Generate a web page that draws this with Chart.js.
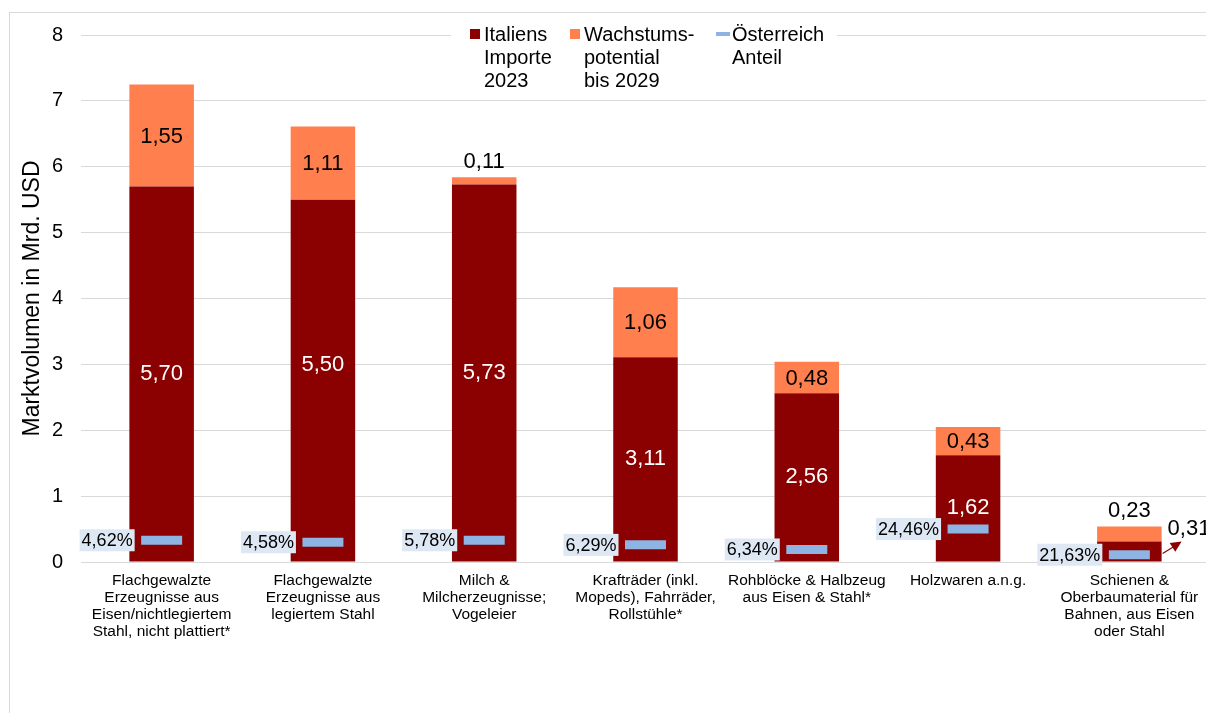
<!DOCTYPE html>
<html lang="de">
<head>
    <meta charset="UTF-8">
    <title>Marktvolumen Italien</title>
    <script src="https://cdn.jsdelivr.net/npm/chart.js"></script>
    <style>
        html, body {
            margin: 0;
            padding: 0;
            overflow: hidden;
            background: #fff;
        }
        #frame {
            position: absolute;
            left: 9px;
            top: 12px;
            width: 1400px;
            height: 900px;
            border: 1px solid #D9D9D9;
        }
        #marketChart {
            position: absolute;
            left: 0;
            top: 0;
        }
    </style>
</head>
<body>
    <div id="frame"></div>
    <canvas id="marketChart" width="1220" height="713"></canvas>
    <script>
        const categories = [
            ['Flachgewalzte', 'Erzeugnisse aus', 'Eisen/nichtlegiertem', 'Stahl, nicht plattiert*'],
            ['Flachgewalzte', 'Erzeugnisse aus', 'legiertem Stahl'],
            ['Milch &', 'Milcherzeugnisse;', 'Vogeleier'],
            ['Krafträder (inkl.', 'Mopeds), Fahrräder,', 'Rollstühle*'],
            ['Rohblöcke & Halbzeug', 'aus Eisen & Stahl*'],
            ['Holzwaren a.n.g.'],
            ['Schienen &', 'Oberbaumaterial für', 'Bahnen, aus Eisen', 'oder Stahl']
        ];
        const importe2023 = [5.70, 5.50, 5.73, 3.11, 2.56, 1.62, 0.31];
        const wachstum2029 = [1.55, 1.11, 0.11, 1.06, 0.48, 0.43, 0.23];
        // Markerhöhe und Beschriftung des österreichischen Anteils
        const anteilMarker = [0.33, 0.30, 0.33, 0.26, 0.19, 0.50, 0.11];
        const anteilProzent = ['4,62%', '4,58%', '5,78%', '6,29%', '6,34%', '24,46%', '21,63%'];
        const yTicks = [0, 1, 2, 3, 4, 5, 6, 7, 8];

        const legendItems = [
            { lines: ['Italiens', 'Importe', '2023'], color: '#8B0000', type: 'box' },
            { lines: ['Wachstums-', 'potential', 'bis 2029'], color: '#FF7F4F', type: 'box' },
            { lines: ['Österreich', 'Anteil'], color: '#8DB4E2', type: 'line' }
        ];

        const fmt = v => v.toFixed(2).replace('.', ',');

        // Beschriftungen, Pfeil und Legende
        const labelPlugin = {
            id: 'labels',
            afterDatasetsDraw(chart) {
                const ctx = chart.ctx;
                const imp = chart.getDatasetMeta(0).data;
                const pot = chart.getDatasetMeta(1).data;
                const ant = chart.getDatasetMeta(2).data;
                // im Original leicht verschobene Beschriftung (Balken 2)
                const nudge = [0, -16, 0, 0, 0, 0, 0];
                ctx.save();
                ctx.textAlign = 'center';
                ctx.textBaseline = 'middle';
                ctx.font = '22px "Liberation Sans", Arial, sans-serif';

                imp.forEach((bar, i) => {
                    const h = bar.base - bar.y;
                    if (h > 30) {
                        ctx.fillStyle = '#fff';
                        ctx.fillText(fmt(importe2023[i]), bar.x, (bar.y + bar.base) / 2 + nudge[i]);
                    } else {
                        // kleiner Wert: außerhalb mit Pfeil
                        const x0 = bar.x + bar.width / 2 + 1;
                        const y0 = (bar.y + bar.base) / 2 + 2;
                        const x1 = x0 + 19, y1 = y0 - 12;
                        ctx.strokeStyle = '#8B0000';
                        ctx.fillStyle = '#8B0000';
                        ctx.lineWidth = 1.2;
                        ctx.beginPath();
                        ctx.moveTo(x0, y0);
                        ctx.lineTo(x1 - 6, y1 + 4);
                        ctx.stroke();
                        const a = Math.atan2(y1 - y0, x1 - x0);
                        ctx.beginPath();
                        ctx.moveTo(x1, y1);
                        ctx.lineTo(x1 - 12 * Math.cos(a - 0.45), y1 - 12 * Math.sin(a - 0.45));
                        ctx.lineTo(x1 - 12 * Math.cos(a + 0.45), y1 - 12 * Math.sin(a + 0.45));
                        ctx.closePath();
                        ctx.fill();
                        ctx.fillStyle = '#000';
                        ctx.textAlign = 'left';
                        ctx.fillText(fmt(importe2023[i]), x1 - 14, y1 - 13);
                        ctx.textAlign = 'center';
                    }
                });

                pot.forEach((bar, i) => {
                    const h = bar.base - bar.y;
                    ctx.fillStyle = '#000';
                    if (h > 24) {
                        ctx.fillText(fmt(wachstum2029[i]), bar.x, (bar.y + bar.base) / 2 + 1);
                    } else {
                        ctx.fillText(fmt(wachstum2029[i]), bar.x, bar.y - 15);
                    }
                });

                ctx.font = '18px "Liberation Sans", Arial, sans-serif';
                ant.forEach((pt, i) => {
                    const txt = anteilProzent[i];
                    const w = ctx.measureText(txt).width + 4;
                    const right = pt.x - 27;
                    ctx.fillStyle = '#DEE8F4';
                    ctx.fillRect(right - w, pt.y - 11, w, 22);
                    ctx.fillStyle = '#000';
                    ctx.textAlign = 'right';
                    ctx.fillText(txt, right - 2, pt.y + 1);
                });
                ctx.restore();
            },
            afterDraw(chart) {
                const ctx = chart.ctx;
                ctx.save();
                ctx.fillStyle = '#fff';
                ctx.fillRect(451, 24, 386, 22);
                ctx.font = '20px "Liberation Sans", Arial, sans-serif';
                ctx.textBaseline = 'middle';
                ctx.textAlign = 'left';
                const starts = [470, 570, 716];
                legendItems.forEach((item, k) => {
                    const x = starts[k];
                    ctx.fillStyle = item.color;
                    if (item.type === 'box') {
                        ctx.fillRect(x, 29, 10, 10);
                    } else {
                        ctx.fillRect(x, 32, 14, 4);
                    }
                    ctx.fillStyle = '#000';
                    const tx = item.type === 'box' ? x + 14 : x + 16;
                    item.lines.forEach((line, j) => {
                        ctx.fillText(line, tx, 35 + j * 23);
                    });
                });
                ctx.restore();
            }
        };

        new Chart(document.getElementById('marketChart'), {
            type: 'bar',
            data: {
                labels: categories,
                datasets: [
                    {
                        label: 'Italiens Importe 2023',
                        data: importe2023,
                        backgroundColor: '#8B0000',
                        stack: 'markt',
                        order: 2
                    },
                    {
                        label: 'Wachstumspotential bis 2029',
                        data: wachstum2029,
                        backgroundColor: '#FF7F4F',
                        stack: 'markt',
                        order: 2
                    },
                    {
                        type: 'line',
                        label: 'Österreich Anteil',
                        data: anteilMarker,
                        stack: 'anteil',
                        showLine: false,
                        pointStyle: 'line',
                        pointRadius: 20.5,
                        pointHoverRadius: 20.5,
                        pointBorderWidth: 9,
                        pointHoverBorderWidth: 9,
                        borderColor: '#8DB4E2',
                        backgroundColor: '#8DB4E2',
                        order: 0
                    }
                ]
            },
            options: {
                responsive: false,
                animation: false,
                events: [],
                layout: {
                    autoPadding: false,
                    padding: { top: 35, right: 10, bottom: 0, left: 0 }
                },
                datasets: {
                    bar: {
                        categoryPercentage: 1,
                        barPercentage: 0.4
                    }
                },
                plugins: {
                    legend: { display: false },
                    tooltip: { enabled: false }
                },
                scales: {
                    x: {
                        stacked: true,
                        grid: { display: false, drawTicks: false },
                        border: { display: false },
                        ticks: {
                            autoSkip: false,
                            maxRotation: 0,
                            padding: 10,
                            color: '#000',
                            font: { family: '"Liberation Sans", Arial, sans-serif', size: 15.5, lineHeight: 1.1 }
                        },
                        afterFit(scale) {
                            scale.height = 151;
                            scale.paddingLeft = 0;
                            scale.paddingRight = 0;
                        }
                    },
                    y: {
                        stacked: true,
                        min: 0,
                        max: 8,
                        afterBuildTicks(scale) {
                            scale.ticks = yTicks.map(v => ({ value: v }));
                        },
                        grid: { color: '#D9D9D9', lineWidth: 1, drawTicks: false },
                        border: { display: false },
                        ticks: {
                            padding: 18,
                            color: '#000',
                            font: { family: '"Liberation Sans", Arial, sans-serif', size: 20 }
                        },
                        title: {
                            display: true,
                            text: 'Marktvolumen in Mrd. USD',
                            color: '#000',
                            padding: { top: 19, bottom: 0 },
                            font: { family: '"Liberation Sans", Arial, sans-serif', size: 23 }
                        },
                        afterFit(scale) {
                            scale.width = 81;
                            scale.paddingTop = 0;
                            scale.paddingBottom = 0;
                        }
                    }
                }
            },
            plugins: [labelPlugin]
        });
    </script>
</body>
</html>
